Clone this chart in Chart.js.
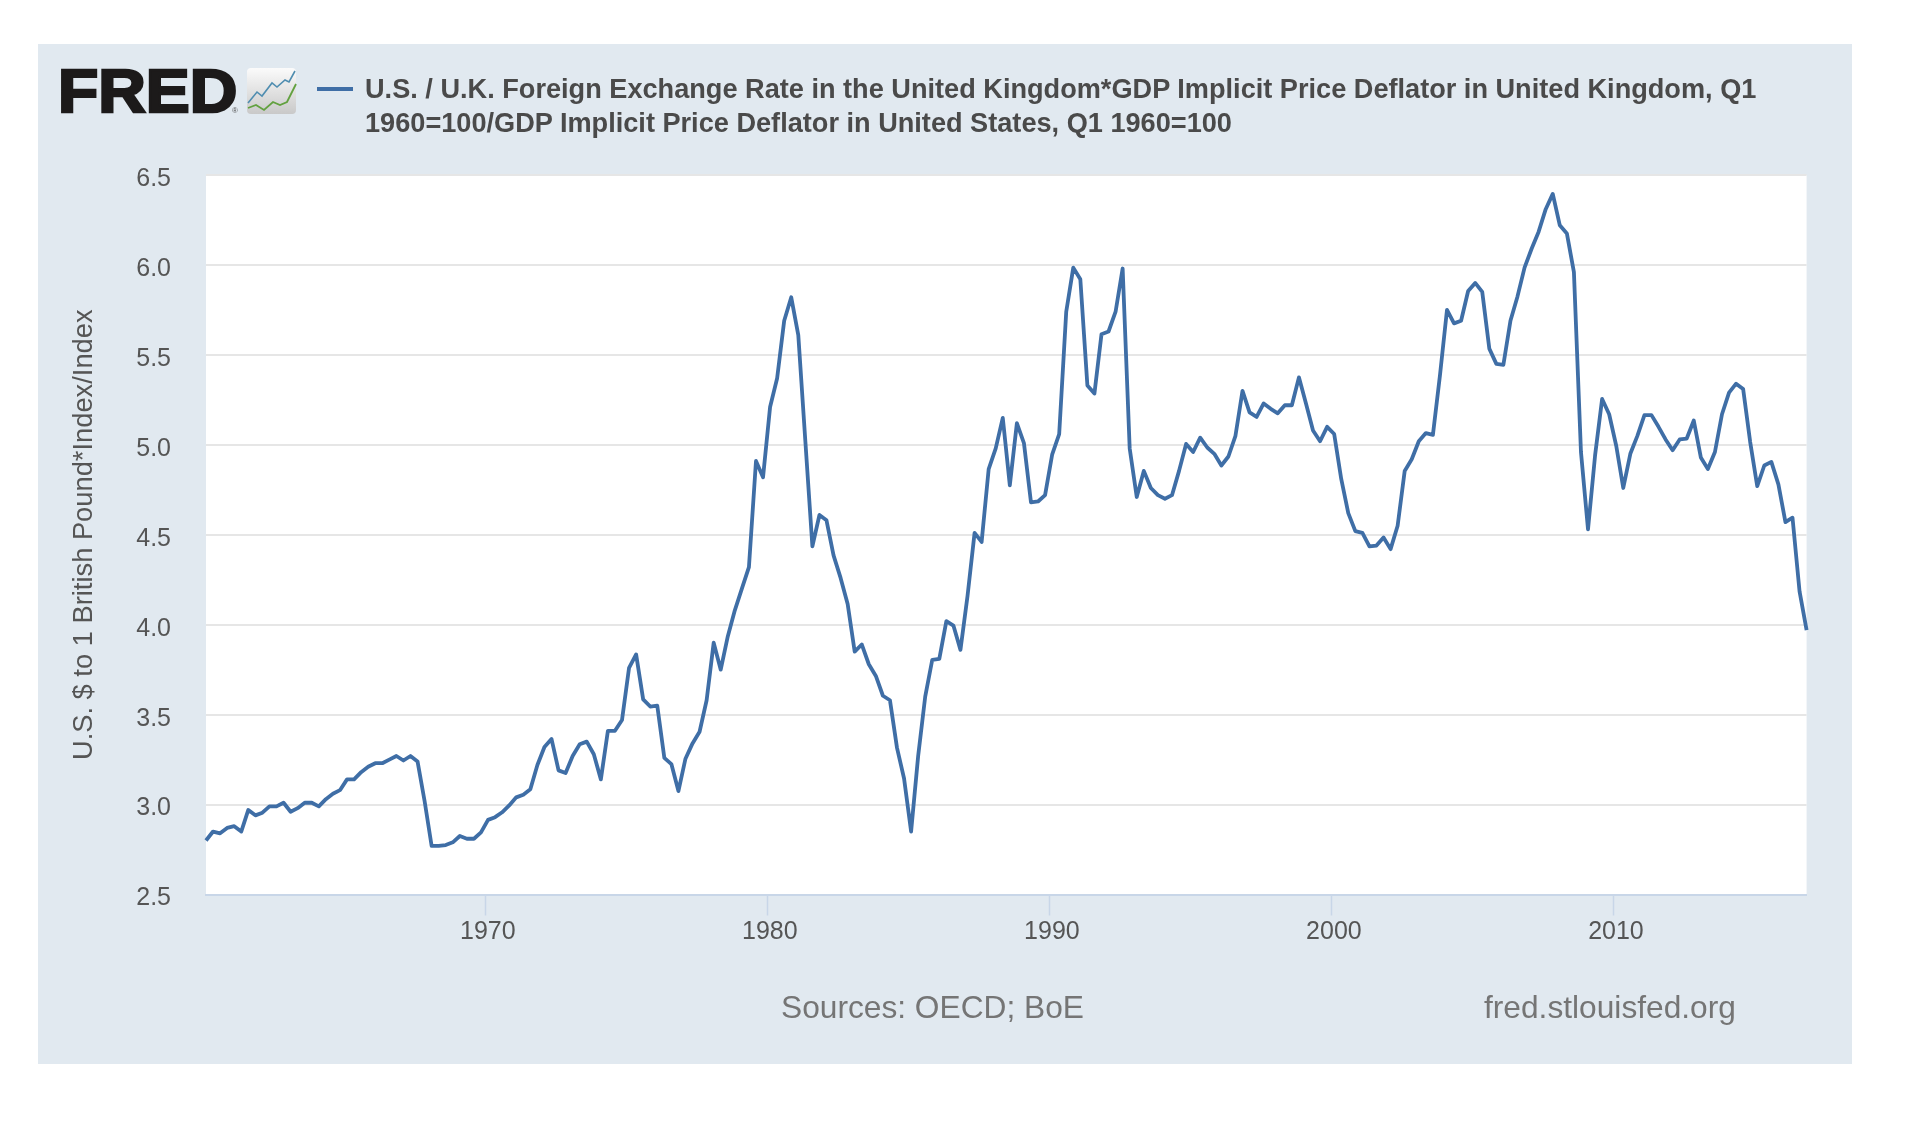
<!DOCTYPE html>
<html>
<head>
<meta charset="utf-8">
<title>U.S. / U.K. real exchange rate</title>
<script src="https://cdn.jsdelivr.net/npm/chart.js@4"></script>
<style>
    html, body { margin: 0; padding: 0; background: #fff; }
    body { width: 1920px; height: 1134px; position: relative; overflow: hidden; font-family: "Liberation Sans", Arial, sans-serif; }
    #panel { position: absolute; left: 38px; top: 44px; width: 1814px; height: 1020px; background: #e1e9f0; }
    #demandChart { position: absolute; left: 0; top: 0; }
    .abs { position: absolute; white-space: nowrap; }
    #logo { left: 58px; top: 55px; font-size: 61px; line-height: 73px; font-weight: bold; color: #1c1a1a; -webkit-text-stroke: 2.5px #1c1a1a; transform: scaleX(1.08); transform-origin: left center; }
    #logoMark { left: 232px; top: 106px; font-size: 8px; line-height: 9px; color: #555; }
    #icon { left: 247px; top: 68px; }
    #swatch { left: 317px; top: 87px; width: 36px; height: 4px; background: #3f6ea6; }
    #legendText { left: 365px; top: 72px; font-size: 27.15px; line-height: 34px; font-weight: bold; color: #4a4a4a; }
    #sources { left: 781px; top: 989px; font-size: 31.7px; line-height: 36px; color: #757575; }
    #site { left: 1484px; top: 989px; font-size: 31.7px; line-height: 36px; color: #757575; }
</style>
</head>
<body>
<div id="panel"></div>
<canvas id="demandChart" width="1920" height="1134"></canvas>
<div class="abs" id="logo">FRED</div>
<div class="abs" id="logoMark">®</div>
<svg class="abs" id="icon" width="50" height="47" viewBox="0 0 50 47">
    <defs>
        <linearGradient id="iconBg" x1="0" y1="0" x2="0" y2="1">
            <stop offset="0" stop-color="#fbfbfb"/>
            <stop offset="1" stop-color="#c9c9c9"/>
        </linearGradient>
    </defs>
    <rect width="49" height="46" rx="4" fill="url(#iconBg)"/>
    <polyline points="1,35 10,24 15,28 25,15 30,19 38,12 42,14 48,3" fill="none" stroke="#4f8db0" stroke-width="1.6"/>
    <polyline points="1,40 9,37 17,42 26,34 33,37 40,34 49,16" fill="none" stroke="#62a13f" stroke-width="1.8"/>
</svg>
<div class="abs" id="swatch"></div>
<div class="abs" id="legendText">U.S. / U.K. Foreign Exchange Rate in the United Kingdom*GDP Implicit Price Deflator in United Kingdom, Q1<br>1960=100/GDP Implicit Price Deflator in United States, Q1 1960=100</div>
<div class="abs" id="sources">Sources: OECD; BoE</div>
<div class="abs" id="site">fred.stlouisfed.org</div>

<script>
// Quarterly values starting 1960 Q1
const firstYear = 1960;
const rateValues = [
    2.80, 2.85, 2.84, 2.87, 2.88, 2.85, 2.97, 2.94, 2.955, 2.99,
    2.99, 3.01, 2.96, 2.98, 3.01, 3.01, 2.99, 3.03, 3.06, 3.08,
    3.14, 3.14, 3.18, 3.21, 3.23, 3.23, 3.25, 3.27, 3.245, 3.27,
    3.24, 3.02, 2.77, 2.77, 2.775, 2.79, 2.825, 2.81, 2.81, 2.845,
    2.915, 2.93, 2.957, 2.995, 3.04, 3.055, 3.085, 3.22, 3.32, 3.365,
    3.19, 3.175, 3.27, 3.335, 3.35, 3.28, 3.14, 3.41, 3.41, 3.47,
    3.76, 3.835, 3.585, 3.545, 3.55, 3.26, 3.225, 3.075, 3.255, 3.34,
    3.405, 3.58, 3.90, 3.75, 3.935, 4.08, 4.20, 4.32, 4.91, 4.82,
    5.21, 5.37, 5.69, 5.82, 5.61, 5.02, 4.435, 4.61, 4.58, 4.385,
    4.26, 4.115, 3.85, 3.89, 3.78, 3.715, 3.605, 3.58, 3.315, 3.145,
    2.85, 3.27, 3.60, 3.805, 3.81, 4.02, 3.995, 3.86, 4.16, 4.51,
    4.46, 4.865, 4.98, 5.15, 4.775, 5.12, 5.01, 4.68, 4.685, 4.72,
    4.945, 5.06, 5.74, 5.985, 5.92, 5.33, 5.285, 5.615, 5.63, 5.74,
    5.98, 4.98, 4.71, 4.855, 4.76, 4.72, 4.70, 4.72, 4.855, 5.005,
    4.96, 5.04, 4.985, 4.95, 4.885, 4.935, 5.05, 5.30, 5.18, 5.155,
    5.23, 5.20, 5.175, 5.22, 5.22, 5.375, 5.23, 5.08, 5.02, 5.10,
    5.06, 4.81, 4.62, 4.52, 4.51, 4.435, 4.44, 4.485, 4.42, 4.55,
    4.855, 4.92, 5.02, 5.065, 5.055, 5.385, 5.75, 5.675, 5.69, 5.855,
    5.90, 5.85, 5.535, 5.45, 5.445, 5.69, 5.825, 5.985, 6.09, 6.185,
    6.31, 6.395, 6.22, 6.175, 5.96, 4.96, 4.53, 4.94, 5.255, 5.17,
    4.995, 4.76, 4.95, 5.05, 5.165, 5.165, 5.10, 5.03, 4.97, 5.03,
    5.035, 5.135, 4.93, 4.865, 4.96, 5.17, 5.29, 5.34, 5.31, 5.015,
    4.77, 4.885, 4.905, 4.78, 4.57, 4.595, 4.185, 3.97
];
const tickYears = [1970, 1980, 1990, 2000, 2010];

// paint the white plot area behind the grid
const plotBackground = {
    id: 'plotBackground',
    beforeDraw(chart) {
        const { ctx, chartArea } = chart;
        ctx.save();
        ctx.fillStyle = '#ffffff';
        ctx.fillRect(chartArea.left, chartArea.top, chartArea.width, chartArea.height);
        ctx.restore();
    }
};

document.addEventListener('DOMContentLoaded', function() {
    const ctx = document.getElementById('demandChart').getContext('2d');
    const points = rateValues.map((v, i) => ({ x: firstYear + i / 4, y: v }));

    new Chart(ctx, {
        type: 'line',
        data: {
            datasets: [{
                label: 'U.S. / U.K. real exchange rate',
                data: points,
                borderColor: '#3f6ea6',
                borderWidth: 3.8,
                pointRadius: 0,
                tension: 0,
                borderJoinStyle: 'round',
                clip: false
            }]
        },
        options: {
            responsive: false,
            animation: false,
            layout: { padding: { left: 68, top: 175, right: 113.4, bottom: 179.5 } },
            plugins: {
                legend: { display: false },
                title: { display: false },
                tooltip: { enabled: false }
            },
            scales: {
                x: {
                    type: 'linear',
                    min: firstYear,
                    max: firstYear + (rateValues.length - 1) / 4,
                    afterBuildTicks(axis) {
                        // tick marks sit a hair left of January in the original
                        axis.ticks = tickYears.map(y => ({ value: y - 0.08 }));
                    },
                    afterFit(axis) { axis.height = 60; },
                    border: { display: true, color: '#c8d6e8', width: 2 },
                    grid: { drawOnChartArea: false, drawTicks: true, tickLength: 21, tickColor: '#c8d6e8', tickWidth: 1.5 },
                    ticks: {
                        color: '#555555',
                        font: { family: 'Liberation Sans', size: 25 },
                        padding: 2,
                        maxRotation: 0,
                        labelOffset: 2,
                        callback: value => String(Math.round(value))
                    }
                },
                y: {
                    min: 2.5,
                    max: 6.5,
                    afterFit(axis) { axis.width = 206 - 68; },
                    border: { display: false },
                    grid: { color: '#e6e6e6', lineWidth: 2, drawTicks: false },
                    ticks: {
                        stepSize: 0.5,
                        color: '#555555',
                        font: { family: 'Liberation Sans', size: 25 },
                        padding: 35,
                        labelOffset: 4,
                        callback: value => value.toFixed(1)
                    },
                    title: {
                        display: true,
                        text: 'U.S. $ to 1 British Pound*Index/Index',
                        color: '#555555',
                        font: { family: 'Liberation Sans', size: 27.3 },
                        padding: 0
                    }
                }
            }
        },
        plugins: [plotBackground]
    });
});
</script>
</body>
</html>
